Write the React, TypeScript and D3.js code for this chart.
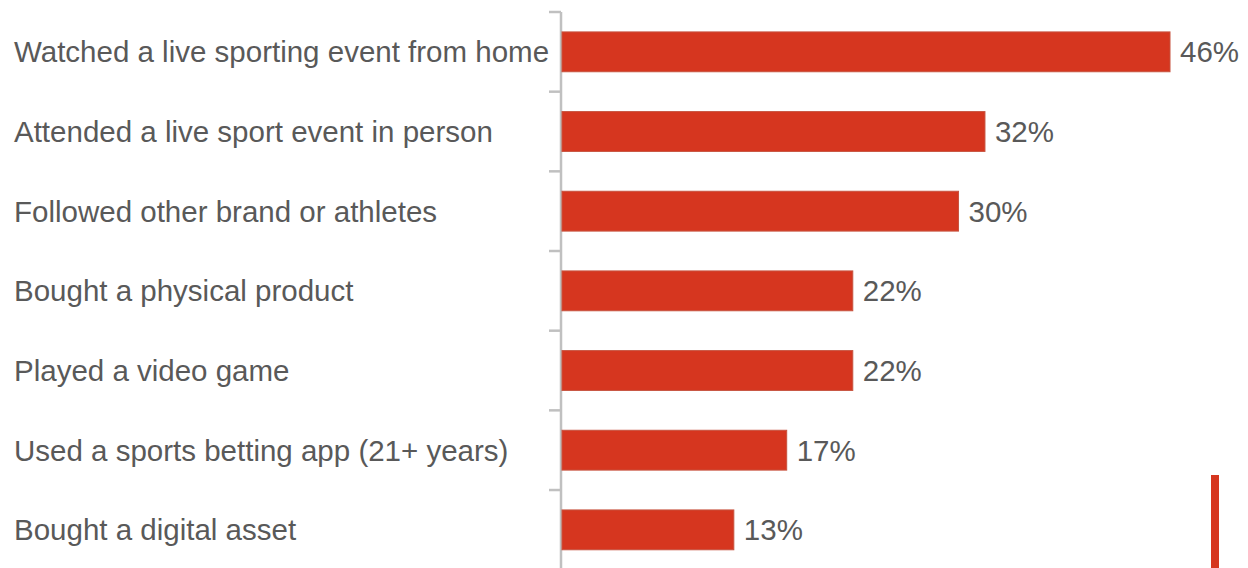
import React from "react";
import * as d3 from "d3";

const categories = [
  "Watched a live sporting event from home",
  "Attended a live sport event in person",
  "Followed other brand or athletes",
  "Bought a physical product",
  "Played a video game",
  "Used a sports betting app (21+ years)",
  "Bought a digital asset",
];
const values = [46, 32, 30, 22, 22, 17, 13];
const valueLabels = ["46%", "32%", "30%", "22%", "22%", "17%", "13%"];

export default function App() {
  const W = 1248, H = 568;
  const axisX = 561;
  const y = d3.scaleBand<string>().domain(categories).range([12, 12 + 7 * 79.67]).paddingInner(0.5).paddingOuter(0.25);
  const x = d3.scaleLinear().domain([0, 46]).range([axisX + 1, 1170]);
  const ticks = d3.range(categories.length + 1).map((i) => 12 + i * y.step());
  return (
    <svg width={W} height={H} style={{ position: "absolute", left: 0, top: 0, background: "#fff" }}
      fontFamily="Liberation Sans, Arial, sans-serif">
      <line x1={axisX} x2={axisX} y1={12} y2={H} stroke="#c0c0c0" strokeWidth={2.5} />
      {ticks.map((t, i) => (
        <line key={i} x1={549} x2={axisX} y1={t} y2={t} stroke="#c0c0c0" strokeWidth={2.5} />
      ))}
      {categories.map((c, i) => (
        <g key={c}>
          <rect x={x(0)} y={y(c)!} width={x(values[i]) - x(0)} height={y.bandwidth()}
            fill="#d6361f" stroke="#c7533f" strokeWidth={1} />
          <text x={14} y={y(c)! + y.bandwidth() / 2} dy="0.35em" fontSize={29.5} fill="#595959">{c}</text>
          <text x={x(values[i]) + 10} y={y(c)! + y.bandwidth() / 2} dy="0.35em" fontSize={29.5} fill="#595959">{valueLabels[i]}</text>
        </g>
      ))}
      <rect x={1211} y={475} width={8} height={H - 475} fill="#d6361f" />
    </svg>
  );
}
